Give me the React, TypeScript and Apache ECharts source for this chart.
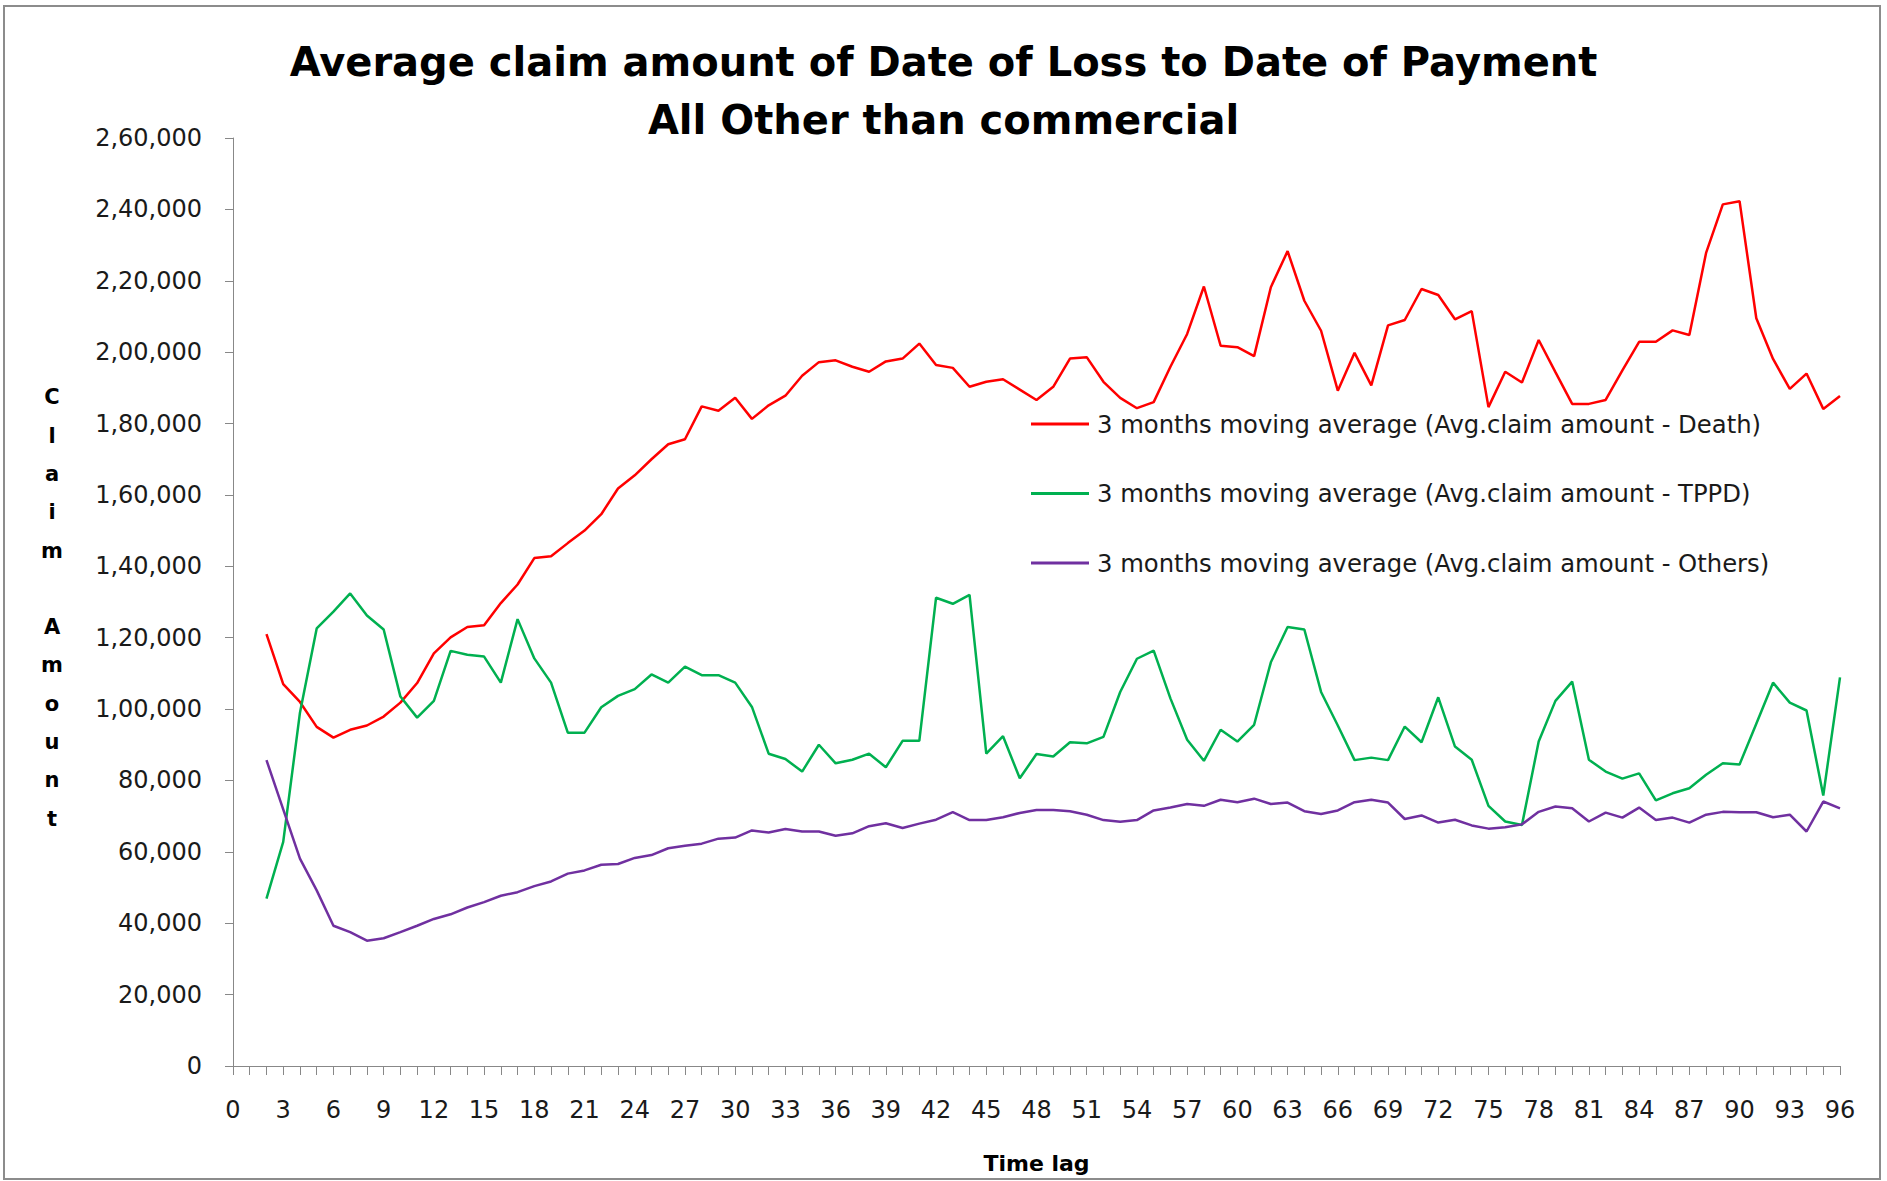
import React, { useEffect, useRef } from "react";
import * as echarts from "echarts";

const timeLag: string[] = Array.from({ length: 97 }, (_, i) => String(i));

// values for time lag 0..96 (0 and 1 have no data)
const death: (number | null)[] = [
  null, null,
  121000, 107000, 102000, 95000, 92000, 94200, 95400, 97900, 101800, 107300,
  115600, 120100, 123000, 123500, 129700, 134900, 142300, 142800, 146500, 150000,
  154600, 161800, 165500, 170000, 174200, 175600, 184800, 183600, 187200, 181300,
  185100, 187800, 193400, 197200, 197700, 195900, 194500, 197400, 198200, 202400,
  196400, 195600, 190300, 191700, 192400, 189500, 186600, 190300, 198200, 198600,
  191700, 187200, 184300, 186000, 195900, 205100, 218400, 201800, 201400, 198900,
  218200, 228300, 214400, 206000, 189200, 199800, 190700, 207500, 209000, 217700,
  216000, 209200, 211500, 184600, 194500, 191500, 203400, 194400, 185500, 185500,
  186600, 194900, 202900, 202900, 206100, 204800, 227800, 241400, 242300, 209500,
  198100, 189700, 194000, 184100, 187700,
];

const tppd: (number | null)[] = [
  null, null,
  46900, 62800, 99000, 122600, 127300, 132400, 126200, 122300, 103500, 97600,
  102300, 116300, 115200, 114700, 107400, 125200, 114200, 107400, 93400, 93400,
  100500, 103700, 105600, 109700, 107400, 111900, 109500, 109500, 107400, 100600,
  87500, 86000, 82500, 90000, 84800, 85800, 87500, 83700, 91100, 91100,
  131200, 129500, 132000, 87500, 92400, 80600, 87400, 86700, 90700, 90400,
  92200, 104800, 114100, 116400, 103000, 91400, 85500, 94200, 90900, 95600,
  113100, 123000, 122300, 104800, 95400, 85700, 86400, 85700, 95100, 90700,
  103300, 89500, 85800, 72900, 68500, 67500, 90900, 102300, 107700, 85800,
  82500, 80500, 82000, 74400, 76400, 77800, 81600, 84800, 84500, 95900,
  107400, 101800, 99600, 75800, 108900,
];

const others: (number | null)[] = [
  null, null,
  85700, 71900, 58100, 49200, 39300, 37500, 35100, 35800, 37500, 39300,
  41200, 42500, 44400, 45900, 47700, 48700, 50400, 51700, 53900, 54800,
  56400, 56600, 58300, 59100, 61000, 61700, 62300, 63700, 64000, 66000,
  65400, 66400, 65700, 65700, 64500, 65200, 67200, 68000, 66700, 67900,
  69000, 71100, 68900, 68900, 69700, 70900, 71700, 71700, 71400, 70400,
  68900, 68400, 68900, 71600, 72400, 73400, 72900, 74600, 73900, 74900,
  73400, 73800, 71400, 70600, 71600, 73900, 74600, 73800, 69200, 70200,
  68200, 69000, 67400, 66500, 66900, 67700, 71200, 72700, 72200, 68500,
  71000, 69600, 72400, 68900, 69600, 68200, 70400, 71200, 71100, 71100,
  69700, 70400, 65700, 74100, 72200,
];

const seriesNames = [
  "3 months moving average (Avg.claim amount - Death)",
  "3 months moving average (Avg.claim amount - TPPD)",
  "3 months moving average (Avg.claim amount - Others)",
];
const seriesColors = ["#FF0000", "#00B050", "#7030A0"];

function indianFormat(v: number): string {
  const s = String(Math.round(v));
  if (s.length <= 3) return s;
  const last3 = s.slice(-3);
  let rest = s.slice(0, -3);
  const parts: string[] = [];
  while (rest.length > 2) {
    parts.unshift(rest.slice(-2));
    rest = rest.slice(0, -2);
  }
  if (rest.length) parts.unshift(rest);
  return parts.join(",") + "," + last3;
}

const FONT = "DejaVu Sans";

export default function App() {
  const ref = useRef<HTMLDivElement>(null);
  useEffect(() => {
    if (!ref.current) return;
    const chart = echarts.init(ref.current, null, { renderer: "svg" });
    const values = [death, tppd, others];
    chart.setOption({
      animation: false,
      backgroundColor: "#ffffff",
      grid: { left: 233, right: 47, top: 138, bottom: 115, containLabel: false },
      title: {
        text: "Average claim amount of Date of Loss to Date of Payment\nAll Other than commercial",
        left: "center",
        top: 28,
        textStyle: {
          fontFamily: FONT,
          fontWeight: "bold",
          fontSize: 40,
          lineHeight: 58,
          color: "#000000",
        },
      },
      legend: {
        orient: "vertical",
        left: 1031,
        top: 409,
        padding: 0,
        itemWidth: 58,
        itemHeight: 3,
        itemGap: 39.5,
        icon: "rect",
        data: seriesNames,
        textStyle: {
          fontFamily: FONT,
          fontSize: 24.3,
          lineHeight: 30,
          color: "#1a1a1a",
          padding: [0, 0, 0, 3],
        },
      },
      xAxis: {
        type: "category",
        data: timeLag,
        boundaryGap: false,
        name: "Time lag",
        nameLocation: "middle",
        nameGap: 86,
        nameTextStyle: { fontFamily: FONT, fontWeight: "bold", fontSize: 22, color: "#000" },
        axisLine: { lineStyle: { color: "#888888", width: 1 } },
        axisTick: { interval: 0, length: 9, lineStyle: { color: "#888888" } },
        axisLabel: {
          interval: 2,
          margin: 32,
          fontFamily: FONT,
          fontSize: 24,
          color: "#1a1a1a",
        },
        splitLine: { show: false },
      },
      yAxis: {
        type: "value",
        min: 0,
        max: 260000,
        interval: 20000,
        axisLine: { show: true, lineStyle: { color: "#888888", width: 1 } },
        axisTick: { show: true, length: 8, lineStyle: { color: "#888888" } },
        axisLabel: {
          margin: 31,
          fontFamily: FONT,
          fontSize: 24,
          color: "#1a1a1a",
          formatter: (v: number) => indianFormat(v),
        },
        splitLine: { show: false },
      },
      graphic: [
        {
          type: "rect",
          shape: { x: 4, y: 6, width: 1876, height: 1173 },
          style: { fill: "none", stroke: "#8c8c8c", lineWidth: 2 },
          silent: true,
        },
        {
          type: "text",
          x: 52,
          y: 608,
          style: {
            text: "C\nl\na\ni\nm\n\nA\nm\no\nu\nn\nt",
            fontFamily: FONT,
            fontWeight: "bold",
            fontSize: 21,
            lineHeight: 38.3,
            align: "center",
            verticalAlign: "middle",
            fill: "#000",
          },
        },
      ],
      series: seriesNames.map((name, i) => ({
        name,
        type: "line",
        data: values[i],
        showSymbol: false,
        symbol: "none",
        lineStyle: { color: seriesColors[i], width: 2.5 },
        itemStyle: { color: seriesColors[i] },
      })),
    });
    return () => chart.dispose();
  }, []);
  return (
    <div
      ref={ref}
      style={{ position: "fixed", left: 0, top: 0, width: 1887, height: 1181, background: "#fff" }}
    />
  );
}
